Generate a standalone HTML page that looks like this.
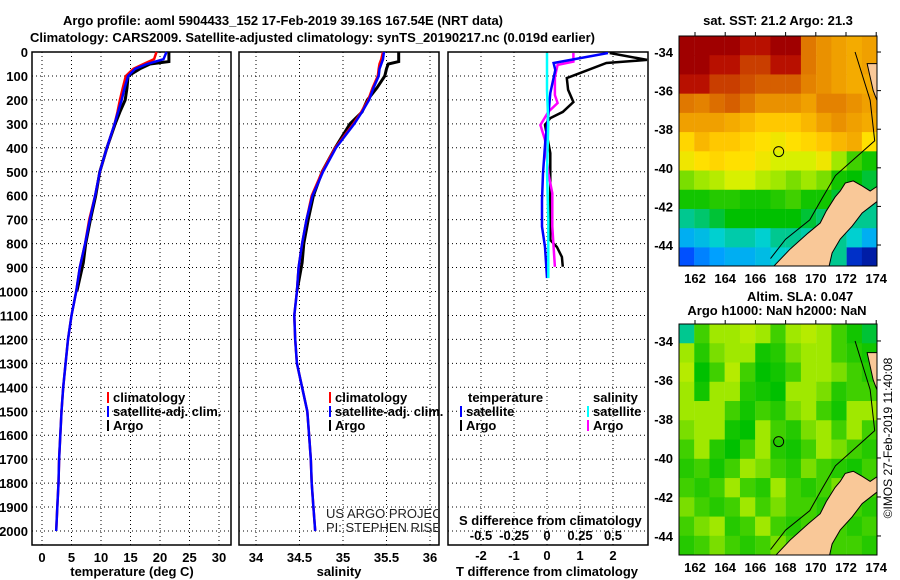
<!DOCTYPE html>
<html><head><meta charset="utf-8"><style>
body{margin:0;background:#fff}
svg{display:block;font-family:"Liberation Sans",sans-serif}
.b{font-weight:bold;font-size:13px}
</style></head><body>
<svg id="s" width="900" height="580" viewBox="0 0 900 580" xmlns="http://www.w3.org/2000/svg">
<rect width="900" height="580" fill="#fff"/>
<text class="b" x="283" y="25" text-anchor="middle">Argo profile: aoml 5904433_152 17-Feb-2019 39.16S 167.54E (NRT data)</text>
<text class="b" x="30" y="42">Climatology: CARS2009. Satellite-adjusted climatology: synTS_20190217.nc (0.019d earlier)</text>
<g id="g"></g>
</svg>
<script>
// ---- data ----
const depthTop=[0,30,50,70,100,150,200,250,300,400,500,600,700,800,900,1000,1100,1200,1300,1400,1500,1600,1700,1800,1900,2000];
const tempClim=[19.4,19.0,17.2,15.5,14.2,13.7,13.2,12.8,12.3,11.0,9.8,9.0,8.0,7.3,6.4,5.8,5.0,4.4,4.0,3.6,3.3,3.1,2.9,2.8,2.6,2.4];
const tempSat=[21.1,20.6,17.8,15.8,14.6,14.0,13.5,12.9,12.3,11.0,9.8,9.0,8.1,7.3,6.4,5.8,5.0,4.4,4.0,3.6,3.3,3.1,2.9,2.8,2.6,2.4];
const argoDepth=[0,40,50,70,100,150,200,250,300,400,500,600,700,800,880,1000];
const tempArgo=[21.5,21.5,18.3,16.6,14.6,14.4,14.1,13.2,12.4,11.0,9.8,9.1,8.2,7.4,7.0,5.9];
const salClim=[35.46,35.44,35.42,35.41,35.40,35.34,35.29,35.21,35.12,34.91,34.76,34.64,34.58,34.53,34.49,34.47,34.44,34.45,34.47,34.53,34.59,34.61,34.63,34.64,34.66,34.68];
const salSat=[35.47,35.46,35.44,35.42,35.41,35.35,35.30,35.22,35.13,34.92,34.77,34.65,34.58,34.53,34.49,34.47,34.44,34.45,34.47,34.53,34.59,34.61,34.63,34.64,34.66,34.68];
const salArgo=[35.64,35.64,35.52,35.50,35.48,35.39,35.28,35.22,35.08,34.91,34.76,34.66,34.60,34.55,34.53,34.47];
const diffDepthTArgo=[4,33,46,88,109,158,209,250,276,305,422,589,785,814,856,897];
const diffTArgo=[1.9,3.03,1.8,1.0,0.6,0.64,0.8,0.48,0.1,-0.06,0.1,0.1,0.1,0.3,0.45,0.48];
const diffDepthTSat=[4,46,75,171,255,367,506,618,729,814,944];
const diffTSat=[1.85,0.2,0.25,0.1,0.05,-0.05,-0.12,-0.15,-0.15,-0.06,0];
const diffDepthSArgo=[4,40,54,104,180,213,250,305,367,506,589,729,814,897];
const diffSArgo=[0.2,0.2,0.08,0.06,0.06,0.08,0.01,-0.05,-0.015,0.01,0.04,0.04,0.05,0.06];
const diffDepthSSat=[4,158,300,500,700,944];
const diffSSat=[0,0,0.01,0,0.01,0.01];
const depthTicks=[0,100,200,300,400,500,600,700,800,900,1000,1100,1200,1300,1400,1500,1600,1700,1800,1900,2000];
const tempTicks=[0,5,10,15,20,25,30];
const salTicks=[34,34.5,35,35.5,36];
const tdTicks=[-2,-1,0,1,2];
const sdTicks=[-0.5,-0.25,0,0.25,0.5];
const sstGrid=[
[1,1,1,1,.95,.95,1,1,.8,.75,.72,.7,.72],
[1,1,.95,.95,.9,.9,.95,.95,.8,.75,.72,.7,.72],
[.95,.95,.9,.9,.88,.85,.85,.85,.78,.75,.72,.7,.7],
[.8,.78,.82,.85,.8,.75,.75,.75,.72,.78,.78,.75,.72],
[.72,.72,.72,.7,.68,.65,.65,.65,.68,.72,.75,.72,.7],
[.62,.68,.65,.65,.62,.6,.58,.6,.62,.65,.68,.7,.6],
[.58,.6,.62,.6,.6,.58,.55,.55,.55,.58,.5,.45,.4],
[.48,.5,.52,.55,.55,.52,.5,.48,.5,.48,.4,.38,.35],
[.4,.4,.42,.42,.4,.4,.42,.45,.4,.4,.35,.3,.3],
[.3,.32,.35,.38,.38,.38,.38,.38,.35,.32,.3,.3,.3],
[.2,.22,.25,.28,.28,.25,.3,.3,.28,.3,.3,.25,.2],
[.1,.15,.18,.2,.2,.22,.25,.25,.3,.3,.3,.05,.02]];
const slaGrid=[
[.3,.45,.5,.5,.52,.5,.45,.5,.52,.5,.45,.4,.35],
[.5,.42,.48,.5,.5,.4,.42,.48,.5,.5,.45,.42,.4],
[.52,.38,.45,.52,.45,.38,.4,.45,.5,.5,.48,.45,.42],
[.5,.4,.5,.5,.42,.4,.38,.5,.5,.48,.42,.45,.45],
[.5,.5,.5,.45,.4,.45,.42,.48,.5,.45,.4,.5,.5],
[.48,.5,.5,.4,.38,.5,.45,.42,.48,.5,.45,.5,.45],
[.45,.5,.42,.38,.45,.5,.42,.4,.45,.5,.48,.45,.42],
[.42,.45,.4,.45,.5,.48,.45,.42,.48,.45,.42,.4,.45],
[.45,.42,.45,.5,.45,.42,.5,.45,.42,.45,.48,.42,.45],
[.48,.45,.42,.45,.5,.45,.48,.45,.45,.42,.45,.45,.42],
[.45,.48,.5,.42,.45,.5,.45,.42,.45,.48,.45,.42,.45],
[.42,.45,.48,.45,.42,.45,.48,.45,.45,.42,.45,.45,.42]];
const mapLats=[-34,-36,-38,-40,-42,-44];
const mapLons=[162,164,166,168,170,172,174];
const landSouth=[[166.97,-45.3],[168.3,-44.21],[169.49,-43.38],[170.29,-42.86],[170.69,-42.24],[171.28,-41.51],[171.62,-41.2],[171.95,-40.79],[172.48,-40.68],[173.07,-40.94],[173.6,-41.2],[174.1,-40.94],[174.1,-41.72],[173.07,-42.34],[172.41,-43.02],[171.62,-43.69],[171.08,-44.41],[170.82,-45.3]];
const landNorth=[[173.4,-34.6],[174.1,-34.6],[174.1,-36.6],[173.8,-36.0]];
const isobath=[[172.6,-34.0],[173.6,-36.5],[173.9,-38.6],[172.6,-39.5],[171.3,-40.4],[170.4,-41.6],[169.6,-42.7],[168,-43.7],[167,-44.7]];
const floatLon=167.54, floatLat=-39.16;

// ---- helpers ----
const NS='http://www.w3.org/2000/svg';const G=document.getElementById('g');
function mk(t,a,p){const e=document.createElementNS(NS,t);for(const k in a)e.setAttribute(k,a[k]);(p||G).appendChild(e);return e;}
function txt(x,y,s,o){const e=mk('text',Object.assign({x:x,y:y,'font-size':13,'font-weight':'bold'},o||{}));e.textContent=s;return e;}
const yD=d=>52+d*0.2395;
const xT=t=>42+t*5.9, xS=s=>256+(s-34)*87, xdT=v=>547+v*33, xdS=v=>547+v*132;
const panels=[[32,231],[239,439],[448,648]];

panels.forEach((p,i)=>{
 const r=mk('rect',{x:p[0],y:52,width:p[1]-p[0],height:493,fill:'none',stroke:'#000','stroke-width':1.5});
 
 
 depthTicks.forEach(d=>{if(d===0)return;const l=mk('line',{x1:p[0],x2:p[1],y1:yD(d),y2:yD(d),stroke:'#000','stroke-dasharray':'1,3'});
 
 });
});
depthTicks.forEach(d=>{const t=txt(28,yD(d)+5,String(d),{'text-anchor':'end'});
 
 });
function vgrid(ticks,fx,fmt,ty){ticks.forEach(v=>{const l=mk('line',{x1:fx(v),x2:fx(v),y1:52,y2:545,stroke:'#000','stroke-dasharray':'1,3'});
 
 
 const t=txt(fx(v),ty,fmt(v),{'text-anchor':'middle'});
 
 });}
vgrid(tempTicks,xT,String,562);vgrid(salTicks,xS,String,562);vgrid(tdTicks,xdT,String,560);
sdTicks.forEach(v=>{const t=txt(xdS(v),540,String(v),{'text-anchor':'middle'});
 
 });
function line(ds,vs,fx,col,name,w){const pts=ds.map((d,i)=>fx(vs[i]).toFixed(1)+','+yD(d).toFixed(1)).join(' ');
 const e=mk('polyline',{points:pts,fill:'none',stroke:col,'stroke-width':w||2.5,'stroke-linejoin':'miter'});
 
 }
const clip=mk('clipPath',{id:'c3'});mk('rect',{x:448,y:52,width:200,height:493},clip);
line(argoDepth,tempArgo,xT,'#000','temp-argo-line',3);
line(depthTop,tempClim,xT,'#f00','temp-climatology-line');
line(depthTop,tempSat,xT,'#00f','temp-satellite-line');
line(argoDepth,salArgo,xS,'#000','sal-argo-line',3);
line(depthTop,salClim,xS,'#f00','sal-climatology-line');
line(depthTop,salSat,xS,'#00f','sal-satellite-line');
const g3=mk('g',{'clip-path':'url(#c3)'});
function line3(ds,vs,fx,col,name){const pts=ds.map((d,i)=>fx(vs[i]).toFixed(1)+','+yD(d).toFixed(1)).join(' ');
 const e=mk('polyline',{points:pts,fill:'none',stroke:col,'stroke-width':2.5},g3);
 
 }
line3(diffDepthTArgo,diffTArgo,xdT,'#000','tdiff-argo-line');
line3(diffDepthSArgo,diffSArgo,xdS,'#f0f','sdiff-argo-line');
line3(diffDepthTSat,diffTSat,xdT,'#00f','tdiff-satellite-line');
line3(diffDepthSSat,diffSSat,xdS,'#0ff','sdiff-satellite-line');

function leg(x,y,col,s,name){mk('rect',{x:x,y:y-10,width:2,height:11,fill:col});
 const t=txt(x+6,y,s);
 }
[[107,'climatology','#f00'],[107,'satellite-adj. clim.','#00f'],[107,'Argo','#000']].forEach((a,i)=>leg(a[0],402+i*14,a[2],a[1],'legend-entry'));
[[329,'climatology','#f00'],[329,'satellite-adj. clim.','#00f'],[329,'Argo','#000']].forEach((a,i)=>leg(a[0],402+i*14,a[2],a[1],'legend-entry'));
txt(468,402,'temperature');
txt(593,402,'salinity');
leg(460,416,'#00f','satellite','legend-entry');leg(460,430,'#000','Argo','legend-entry');
leg(587,416,'#0ff','satellite','legend-entry');leg(587,430,'#f0f','Argo','legend-entry');
txt(459,525,'S difference from climatology');
txt(132,576,'temperature (deg C)',{'text-anchor':'middle'});
txt(339,576,'salinity',{'text-anchor':'middle'});
txt(547,576,'T difference from climatology',{'text-anchor':'middle'});
const c2=mk('clipPath',{id:'c2'});mk('rect',{x:239,y:52,width:199,height:493},c2);
const cr=mk('g',{'clip-path':'url(#c2)'});
const t1=mk('text',{x:326,y:518,'font-size':13,fill:'#222'},cr);t1.textContent='US ARGO PROJECT';
const t2=mk('text',{x:326,y:532,'font-size':13,fill:'#222'},cr);t2.textContent='PI: STEPHEN RISER';

// ---- maps ----
const stops=[[0,'#001090'],[.1,'#0050ff'],[.18,'#00a0ff'],[.25,'#00d0d0'],[.3,'#00c890'],[.38,'#00c000'],[.45,'#40d000'],[.5,'#a0e800'],[.55,'#d8f000'],[.6,'#ffe000'],[.65,'#ffc800'],[.72,'#f0a000'],[.8,'#e07800'],[.88,'#d05000'],[.95,'#b81000'],[1,'#a00000']];
function hx(h){return [1,3,5].map(i=>parseInt(h.substr(i,2),16));}
function cmap(v){for(let i=1;i<stops.length;i++){if(v<=stops[i][0]){const a=stops[i-1],b=stops[i],f=(v-a[0])/(b[0]-a[0]);const A=hx(a[1]),B=hx(b[1]);return 'rgb('+A.map((c,k)=>Math.round(c+(B[k]-c)*f)).join(',')+')';}}return stops[stops.length-1][1];}
function drawMap(m){
 const X=lon=>679+(lon-160.94)*15.1, Y=lat=>m.y0+(m.latTop-lat)*m.py;
 const cp=mk('clipPath',{id:'m'+m.id});mk('rect',{x:679,y:m.y0,width:198,height:m.h},cp);
 const g=mk('g',{'clip-path':'url(#m'+m.id+')'});
 
 
 m.grid.forEach((row,r)=>row.forEach((v,c)=>{const x0=X(160.94+c*(13.12/13)),y0=Y(m.latTop-r*(m.latSpan/12));
  const e=mk('rect',{x:x0,y:y0,width:15.4,height:m.h/12+0.5,fill:cmap(v)},g);
  
  }));
 [landSouth,landNorth].forEach(L=>{const e=mk('polygon',{points:L.map(p=>X(p[0])+','+Y(p[1])).join(' '),fill:'#f9c898',stroke:'#000','stroke-width':1},g);
  
  });
 mk('polyline',{points:isobath.map(p=>X(p[0])+','+Y(p[1])).join(' '),fill:'none',stroke:'#000','stroke-width':1},g);
 const c=mk('circle',{cx:X(floatLon),cy:Y(floatLat),r:5,fill:'none',stroke:'#000','stroke-width':1});
 
 
 const f=mk('rect',{x:679,y:m.y0,width:198,height:m.h,fill:'none',stroke:'#000','stroke-width':1});
 
 
 mapLats.forEach(l=>{const t=txt(673,Y(l)+5,String(l),{'text-anchor':'end'});
  
  
  mk('line',{x1:877,x2:881,y1:Y(l),y2:Y(l),stroke:'#000'});});
 mapLons.forEach(l=>{const t=txt(X(l),m.y0+m.h+17,String(l),{'text-anchor':'middle'});
  
  
  mk('line',{x1:X(l),x2:X(l),y1:m.y0,y2:m.y0-4,stroke:'#000'});});
}
drawMap({id:1,name:'sst-map',y0:36,h:230,latTop:-33.17,latSpan:11.95,py:19.3,grid:sstGrid});
drawMap({id:2,name:'sla-map',y0:324,h:231,latTop:-33.13,latSpan:11.85,py:19.5,grid:slaGrid});
txt(778,25,'sat. SST: 21.2 Argo: 21.3',{'text-anchor':'middle'});
txt(747,301,'Altim. SLA: 0.047');
txt(777,315,'Argo h1000: NaN h2000: NaN',{'text-anchor':'middle'});
const ts=mk('text',{x:0,y:0,'font-size':12,transform:'translate(892,438) rotate(-90)','text-anchor':'middle'});
ts.textContent='©IMOS 27-Feb-2019 11:40:08';


</script>
</body></html>
